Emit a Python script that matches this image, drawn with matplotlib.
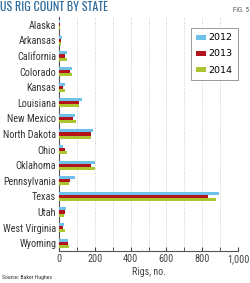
import matplotlib.pyplot as plt
from matplotlib import font_manager as fm
import numpy as np


def first_installed(candidates, default='DejaVu Sans'):
    installed = {f.name for f in fm.fontManager.ttflist}
    for name in candidates:
        if name in installed:
            return name
    return default


title_family = first_installed(['Oswald', 'Roboto Condensed', 'Barlow Condensed', 'Archivo Narrow',
                                'PT Sans Narrow', 'Fjalla One', 'Liberation Sans Narrow'])
label_family = first_installed(['Roboto Condensed', 'Archivo Narrow', 'PT Sans Narrow',
                                'Barlow Semi Condensed', 'Liberation Sans Narrow',
                                'Open Sans Condensed', 'Oswald'])

states = ['Alaska', 'Arkansas', 'California', 'Colorado', 'Kansas', 'Louisiana',
          'New Mexico', 'North Dakota', 'Ohio', 'Oklahoma', 'Pennsylvania',
          'Texas', 'Utah', 'West Virginia', 'Wyoming']
rigs_2012 = [6, 18, 43, 70, 33, 128, 87, 189, 20, 200, 87, 896, 39, 28, 52]
rigs_2013 = [5, 12, 34, 61, 24, 111, 81, 176, 33, 181, 61, 831, 31, 24, 48]
rigs_2014 = [5, 12, 43, 70, 33, 111, 93, 176, 46, 200, 56, 878, 26, 31, 56]
years = ['2012', '2013', '2014']
colors = ['#6ec1ea', '#b3141c', '#a9c52f']
xticks = [0, 200, 400, 600, 800, 1000]
xtick_labels = ['0', '200', '400', '600', '800', '1,000']

fig = plt.figure(figsize=(2.5, 2.83), dpi=100)
ax = fig.add_axes([0.236, 0.113, 0.716, 0.827])
renderer = fig.canvas.get_renderer()


def fit_size(text, target_px, max_size):
    # shrink a text until it is as wide as in the original picture
    w = text.get_window_extent(renderer).width
    text.set_fontsize(min(max_size, text.get_fontsize() * target_px / w))


y = np.arange(len(states))
h = 0.2
for i, (vals, yr, c) in enumerate(zip([rigs_2012, rigs_2013, rigs_2014], years, colors)):
    ax.barh(y + (i - 1) * h, vals, height=h, color=c, label=yr, zorder=3)

ax.set_ylim(len(states) - 0.5, -0.5)
ax.set_xlim(0, 1000)
ax.set_yticks(y)
ylabels = ax.set_yticklabels(states, fontsize=8, color='#333333', family=label_family)
ax.set_xticks(xticks)
xlabels = ax.set_xticklabels(xtick_labels, fontsize=8, color='#444444', family=label_family)
ax.set_xticks(np.arange(100, 1000, 200), minor=True)
ax.tick_params(axis='y', length=0, pad=2)
ax.tick_params(axis='x', which='both', direction='in', length=3, color='#444444', pad=2)
ax.grid(axis='x', which='both', linestyle=(0, (1, 2)), color='#bbbbbb', linewidth=0.6, zorder=0)
for s in ['top', 'right']:
    ax.spines[s].set_visible(False)
for s in ['left', 'bottom']:
    ax.spines[s].set_color('#555555')
    ax.spines[s].set_linewidth(0.8)
ax.set_xlabel('Rigs, no.', fontsize=7.2, color='#444444', labelpad=2, family=label_family)

w = ylabels[states.index('Pennsylvania')].get_window_extent(renderer).width
size = min(8, 8 * 53 / w)
for t in ylabels:
    t.set_fontsize(size)

w = xlabels[-1].get_window_extent(renderer).width
size = min(8, 8 * 22 / w)
for t in xlabels:
    t.set_fontsize(size)

leg = ax.legend(loc='upper right', bbox_to_anchor=(1.0, 0.952), fontsize=6.8,
                handlelength=1.0, handleheight=0.45, handletextpad=0.3,
                labelspacing=0.75, borderpad=0.55, borderaxespad=0,
                fancybox=False, framealpha=1)
leg.get_frame().set_edgecolor('#999999')
leg.get_frame().set_linewidth(0.7)

title = fig.text(0.0, 0.995, 'US RIG COUNT BY STATE', fontsize=9.5, fontweight='bold',
                 family=title_family, color='#2d6a9c', ha='left', va='top')
fit_size(title, 108, 9.5)

fig.text(0.995, 0.975, 'FIG. 5', fontsize=5, family=label_family, color='#555555',
         ha='right', va='top')
source = fig.text(0.01, 0.01, 'Source: Baker Hughes', fontsize=5, family=label_family,
                  color='#333333', ha='left', va='bottom')
fit_size(source, 51, 5)

fig.savefig('out.png', dpi=100)
